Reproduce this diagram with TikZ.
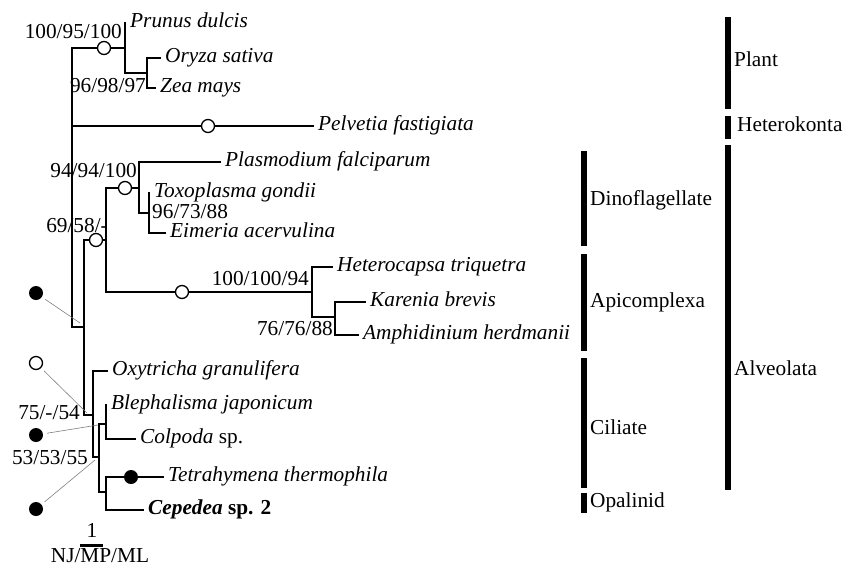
\documentclass[tikz,border=0pt]{standalone}
\usepackage{fontspec}
\setmainfont{Liberation Serif}
\newcommand\tsz{\fontsize{21.3}{24}\selectfont}
\begin{document}
\begin{tikzpicture}[x=1pt,y=-1pt,
  br/.style={line width=1.5pt, line cap=rect},
  leaf/.style={anchor=west, inner xsep=5pt, inner ysep=0pt, font=\tsz\itshape, text height=14pt, text depth=4.3pt},
  bs/.style={inner sep=0pt, font=\tsz, text height=14pt, text depth=4.3pt},
  oc/.style={circle, draw, line width=1.3pt, fill=white, minimum size=13pt, inner sep=0pt},
  fc/.style={circle, fill=black, minimum size=14pt, inner sep=0pt},
  grp/.style={anchor=west, inner xsep=3pt, inner ysep=0pt, font=\tsz, text height=14pt, text depth=4.3pt},
  bar/.style={line width=6pt},
  ptr/.style={line width=0.6pt, gray, shorten <=4pt}]
\useasboundingbox (0,0) rectangle (845,566);

% ---------- internal nodes ----------
\coordinate (A) at (72,48);
\coordinate (B) at (72,327);
\coordinate (P) at (125,48);
\coordinate (OZ) at (147,73);
\coordinate (PeR) at (72,126);
\coordinate (AL) at (84,327);
\coordinate (DA) at (106,240);
\coordinate (AP) at (139,188);
\coordinate (TE) at (149,213);
\coordinate (DI) at (312,292);
\coordinate (KA) at (335,317);
\coordinate (CI) at (93,415);
\coordinate (C2) at (99,457);
\coordinate (BC) at (106,424);
\coordinate (TC) at (106,492);

% ---------- leaves ----------
\node[leaf] (Pr) at (125,23) {Prunus dulcis};
\node[leaf] (Or) at (160,58) {Oryza sativa};
\node[leaf] (Ze) at (155,88) {Zea mays};
\node[leaf] (Pe) at (313,126) {Pelvetia fastigiata};
\node[leaf] (Pl) at (220,162) {Plasmodium falciparum};
\node[leaf] (To) at (149,193) {Toxoplasma gondii};
\node[leaf] (Ei) at (165,233) {Eimeria acervulina};
\node[leaf] (He) at (332,267) {Heterocapsa triquetra};
\node[leaf] (Ka) at (365,302) {Karenia brevis};
\node[leaf] (Am) at (358,335) {Amphidinium herdmanii};
\node[leaf] (Ox) at (107,371) {Oxytricha granulifera};
\node[leaf] (Bl) at (106,405) {Blephalisma japonicum};
\node[leaf] (Co) at (135,439) {Colpoda \textup{sp.}};
\node[leaf] (Te) at (163,477) {Tetrahymena thermophila};
\node[leaf] (Ce) at (143,510) {\bfseries Cepedea \textup{sp. 2}};

% ---------- branches ----------
\draw[br] (A) -- (B);
\draw[br] (A) -- (P);
\draw[br] (PeR) -- (Pe.west);
\draw[br] (B) -- (AL);
\draw[br] (Pr.west) |- (OZ);
\draw[br] (Or.west) -| (OZ) |- (Ze.west);
\draw[br] (DA) -| (AL) |- (CI);
\draw[br] (AP) -| (DA) |- (DI);
\draw[br] (Pl.west) -| (AP) |- (TE);
\draw[br] (To.west) -| (TE) |- (Ei.west);
\draw[br] (He.west) -| (DI) |- (KA);
\draw[br] (Ka.west) -| (KA) |- (Am.west);
\draw[br] (Ox.west) -| (CI) |- (C2);
\draw[br] (BC) -| (C2) |- (TC);
\draw[br] (Bl.west) -| (BC) |- (Co.west);
\draw[br] (Te.west) -| (TC) |- (Ce.west);

% ---------- marks on branches ----------
\node[oc] (m1) at (104,48) {};
\node[oc] (m2) at (208,126) {};
\node[oc] (m3) at (125,188) {};
\node[oc] (m4) at (96,240) {};
\node[oc] (m5) at (182,292) {};
\node[fc] (m6) at (131,477) {};

% ---------- support values ----------
\node[bs, anchor=east] (b1) at (122,34) {100/95/100};
\node[bs, anchor=east] (b2) at (146,88) {96/98/97};
\node[bs, anchor=east] (b3) at (137,173) {94/94/100};
\node[bs, anchor=east] (b4) at (108,228) {69/58/-};
\node[bs, anchor=base west, text depth=0pt] (b5) at (152,218.5) {96/73/88};
\node[bs, anchor=east] (b6) at (309,281) {100/100/94};
\node[bs, anchor=east] (b7) at (333,331) {76/76/88};
\node[bs, anchor=east] (b8) at (80,415) {75/-/54};
\node[bs, anchor=east] (b9) at (88,460) {53/53/55};

% ---------- side markers with pointers ----------
\node[fc] (d1) at (36,293) {};
\node[oc] (d2) at (36,363) {};
\node[fc] (d3) at (36,435) {};
\node[fc] (d4) at (36,509) {};
\coordinate (e1) at (80,323);
\coordinate (e2) at (87,413);
\coordinate (e3) at (98,425);
\coordinate (e4) at (95,460);
\draw[ptr] (d1) -- (e1);
\draw[ptr] (d2) -- (e2);
\draw[ptr] (d3) -- (e3);
\draw[ptr] (d4) -- (e4);

% ---------- scale bar ----------
\node[bs] (s0) at (92,533) {1};
\coordinate (s1) at (80,545);
\coordinate (s2) at (103,545);
\draw[line width=3pt] (s1) -- (s2);
\node[bs] (s3) at (100,558) {NJ/MP/ML};

% ---------- group bars ----------
\draw[bar] (728,17) -- (728,109);
\node[grp] (gPlant) at (731,62) {Plant};
\draw[bar] (728,116) -- (728,139);
\node[grp] (gHet) at (734,127) {Heterokonta};
\draw[bar] (728,145) -- (728,490);
\node[grp] (gAlv) at (731,371) {Alveolata};
\draw[bar] (584,151) -- (584,246);
\node[grp] (gDino) at (587,201) {Dinoflagellate};
\draw[bar] (584,254) -- (584,351);
\node[grp] (gApi) at (587,303) {Apicomplexa};
\draw[bar] (584,358) -- (584,488);
\node[grp] (gCil) at (587,430) {Ciliate};
\draw[bar] (584,493) -- (584,513);
\node[grp] (gOpa) at (587,503) {Opalinid};
\end{tikzpicture}
\end{document}
